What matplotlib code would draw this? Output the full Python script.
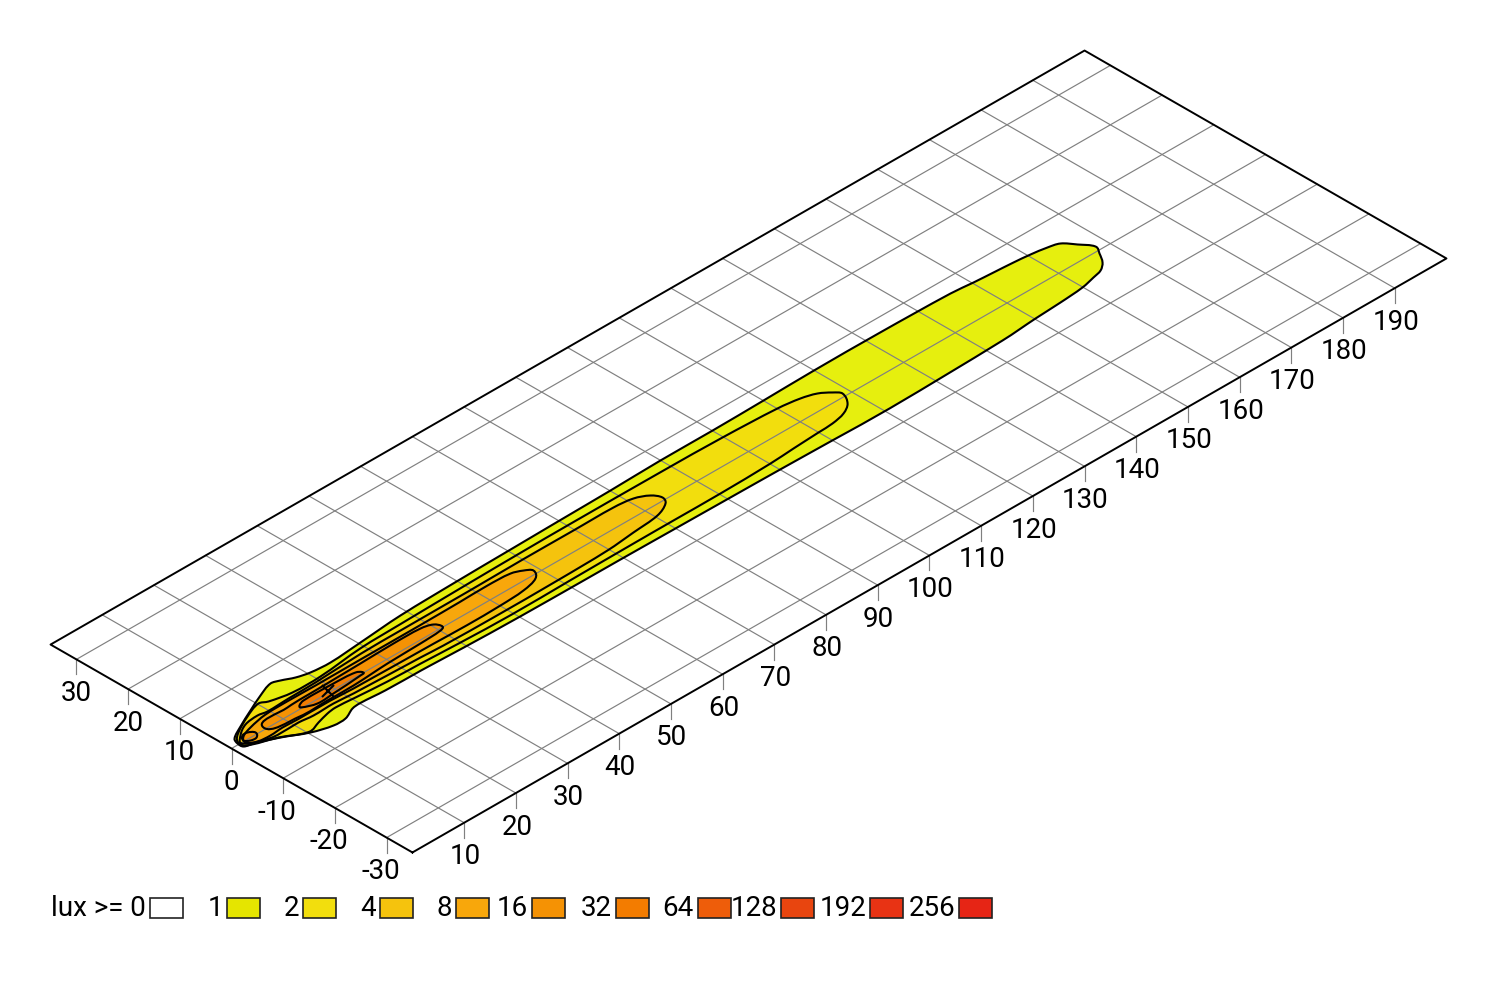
#!/usr/bin/env python3

"""Isolux plot of a headlamp beam on an inclined road plane."""

import matplotlib
import numpy as np

matplotlib.use("Agg")
from matplotlib import pyplot as plt
from matplotlib.patches import PathPatch, Rectangle
from matplotlib.path import Path
from matplotlib.transforms import Affine2D

plt.rcParams["font.family"] = ["Roboto", "Liberation Sans", "DejaVu Sans"]

# distance along the road (x) and across it (y), in metres
X_TICKS = list(range(10, 200, 10))
Y_TICKS = list(range(-30, 40, 10))
X_RANGE = (0, 200)
Y_RANGE = (-35, 35)
LAMP_X = 19.0
LAMP_Y = 0.3

LUX_LABELS = ["0", "1", "2", "4", "8", "16", "32", "64", "128", "192", "256"]
LUX_COLORS = ["#ffffff", "#e5e500", "#f2de0d", "#f5c30d", "#f8a70b", "#f59204",
              "#f37c00", "#ee5d0a", "#e8450f", "#e83314", "#e62515"]
BEAM_LEVEL1_COLOR = "#e6ef0e"

LEVEL1_X = [1.97, 4.57, 8.23, 11.73, 14.71, 16.19, 18.14, 20.44, 24.05, 30.32, 38.74, 50.14, 60.0, 70.2,
            80.09, 89.97, 100.05, 110.04, 119.92, 132.8, 146.13, 150.21, 153.83, 157.45, 160.44, 163.26, 165.19,
            166.67, 168.07, 167.28, 166.06, 164.52, 162.66, 159.91, 155.26, 150.15, 143.25, 120.98, 109.98,
            100.69, 91.15, 80.17, 68.98, 56.39, 44.41, 34.57, 31.41, 24.68, 20.05, 18.44, 16.08, 13.74,
            10.34, 6.59, 2.97, 1.5, 1.42]
LEVEL1_Y = [1.39, 2.83, 4.56, 6.12, 7.17, 6.71, 5.76, 5.16, 4.9, 5.37, 6.05, 6.35, 6.5, 6.65,
            6.78, 7.0, 7.0, 7.13, 7.3, 7.3, 7.06, 6.69, 6.44, 6.19, 5.89, 5.43, 4.84,
            3.03, 0.95, -0.61, -2.42, -3.58, -4.07, -4.69, -5.09, -5.37, -5.88, -6.4, -6.25,
            -6.1, -6.0, -5.9, -5.8, -5.75, -5.6, -5.3, -5.2, -5.1, -4.8, -4.97, -5.98, -6.0,
            -4.95, -2.89, -1.29, -0.83, 0.26]

LEVEL2_X = [37.22, 29.48, 20.73, 15.33, 11.49, 10.19, 6.93, 3.37, 1.76, 1.86, 6.4, 10.3, 12.79, 15.18, 16.96,
            20.22, 26.37, 32.59, 39.82, 49.67, 61.07, 73.39, 81.13, 90.22, 100.11, 104.86, 109.97, 112.84,
            115.59, 117.66, 118.86, 118.06, 116.44, 113.96, 110.05, 99.84, 88.58, 70.04, 61.58, 50.27]
LEVEL2_Y = [4.6, 4.4, 3.52, 3.53, 4.33, 4.97, 3.84, 2.02, 0.6, -0.85, -2.7, -4.7, -4.04, -3.39, -3.16,
            -3.38, -3.81, -4.0, -4.3, -4.55, -4.45, -4.37, -4.36, -4.36, -4.15, -3.85, -3.57, -3.41,
            -2.79, -1.5, 0.68, 1.81, 3.09, 3.9, 4.44, 4.87, 5.02, 5.05, 5.0, 4.85]

LEVEL4_X = [83.22, 83.94, 83.11, 80.97, 77.52, 69.78, 60.23, 49.72, 36.21, 28.47, 19.24, 13.93, 9.71, 8.07, 5.4,
            3.06, 1.9, 5.54, 8.88, 10.86, 13.49, 17.44, 21.06, 33.6, 37.84, 47.39, 59.81, 69.7, 75.24, 80.42]
LEVEL4_Y = [-0.73, 0.57, 2.07, 3.21, 3.63, 3.63, 3.65, 3.55, 3.52, 3.45, 2.99, 2.9, 2.75, 3.04, 2.69,
            1.32, -0.22, -2.0, -2.15, -2.1, -2.38, -2.29, -2.54, -2.96, -3.16, -3.28, -3.24, -3.03, -2.51, -1.97]

LEVEL8_X = [58.02, 59.17, 58.2, 56.44, 52.2, 46.73, 39.61, 35.2, 27.46, 18.73, 13.95, 9.01, 5.37, 3.18, 2.36,
            3.69, 5.96, 8.47, 11.27, 17.66, 21.9, 37.21, 43.53, 50.09, 54.84]
LEVEL8_Y = [-0.78, 0.76, 1.72, 2.47, 2.68, 2.58, 2.52, 2.51, 2.51, 2.48, 2.54, 2.43, 1.7, 0.86, -0.34,
            -1.33, -1.58, -1.4, -1.5, -1.5, -1.7, -1.9, -2.02, -1.94, -1.64]

LEVEL16_X = [40.95, 40.41, 38.48, 33.34, 26.79, 18.88, 12.32, 6.63, 11.9, 17.37, 22.4, 29.4, 35.96, 40.08]
LEVEL16_Y = [0.13, 1.34, 1.92, 2.01, 1.84, 1.67, 1.49, 0.44, -1.2, -1.2, -1.2, -0.78, -0.6, -0.35]

NOSE16_X = [3.26, 4.24, 5.02, 4.27, 3.18, 2.51]
NOSE16_Y = [1.13, 1.15, 0.38, -0.57, -0.49, 0.19]

LEVEL32_X = [25.56, 24.79, 20.81, 15.05, 13.82, 13.58, 15.89, 19.13, 24.77]
LEVEL32_Y = [0.03, 0.8, 1.08, 1.12, 0.67, 0.23, -0.74, -0.6, -0.18]

# page layout, in pixels of the 1500x1000 canvas
LEGEND_LEFT = [150, 227, 303, 380, 456, 532, 616, 698, 781, 870, 959]
LEGEND_TOP = 898
SWATCH_W = 33
SWATCH_H = 20
TICK_LEN = 15
LABEL_GAP = 34
MINUS_SHIFT = 6
FONT_SIZE = 20


def smooth_outline(xs, ys):
    """Closed bezier path through the read-off contour points."""
    pts = np.column_stack([xs, ys])
    ahead = np.roll(pts, -1, axis=0)
    tangents = ahead - np.roll(pts, 1, axis=0)
    tangents = tangents / np.linalg.norm(tangents, axis=1, keepdims=True)
    seg_len = np.linalg.norm(ahead - pts, axis=1, keepdims=True) / 3
    ctrl_a = pts + tangents * seg_len
    ctrl_b = ahead - np.roll(tangents, -1, axis=0) * seg_len

    vertices = [pts[0]]
    codes = [Path.MOVETO]
    for a, b, end in zip(ctrl_a, ctrl_b, ahead):
        vertices += [a, b, end]
        codes += [Path.CURVE4] * 3
    return Path(vertices, codes, closed=False)


fig = plt.figure(figsize=(15, 10), dpi=100)
ax = fig.add_axes([0, 0, 1, 1])
ax.set_xlim(0, 1500)
ax.set_ylim(1000, 0)
ax.axis("off")

# road coordinates -> page pixels
road_to_page = Affine2D.from_values(5.17, -2.97, -5.17, -2.97, 231.5, 748.5)
road = road_to_page + ax.transData

contours = [
    (LEVEL1_X, LEVEL1_Y, BEAM_LEVEL1_COLOR),
    (LEVEL2_X, LEVEL2_Y, LUX_COLORS[2]),
    (LEVEL4_X, LEVEL4_Y, LUX_COLORS[3]),
    (LEVEL8_X, LEVEL8_Y, LUX_COLORS[4]),
    (LEVEL16_X, LEVEL16_Y, LUX_COLORS[5]),
    (NOSE16_X, NOSE16_Y, LUX_COLORS[5]),
    (LEVEL32_X, LEVEL32_Y, LUX_COLORS[6]),
]

# fills first so the grid stays visible on top of the beam
for xs, ys, color in contours:
    ax.add_patch(PathPatch(smooth_outline(xs, ys), facecolor=color, edgecolor="none", transform=road, zorder=1))

for x in X_TICKS:
    ax.plot([x, x], Y_RANGE, color="#808080", lw=0.85, transform=road, zorder=2)
for y in Y_TICKS:
    ax.plot(X_RANGE, [y, y], color="#808080", lw=0.85, transform=road, zorder=2)

for xs, ys, color in contours:
    ax.add_patch(PathPatch(smooth_outline(xs, ys), fill=False, edgecolor="black", lw=1.5,
                           joinstyle="round", transform=road, zorder=3))

ax.plot([X_RANGE[0], X_RANGE[1], X_RANGE[1], X_RANGE[0], X_RANGE[0]],
        [Y_RANGE[0], Y_RANGE[0], Y_RANGE[1], Y_RANGE[1], Y_RANGE[0]],
        color="black", lw=1.4, transform=road, zorder=4)
ax.plot([LAMP_X], [LAMP_Y], marker="x", ms=8.5, mew=1.5, color="black", transform=road, zorder=5)

# ticks hang straight down from the plate edge
for x in X_TICKS:
    px, py = road_to_page.transform((x, Y_RANGE[0]))
    ax.plot([px, px], [py, py + TICK_LEN], color="#808080", lw=0.85, zorder=2)
    ax.text(px + 1, py + LABEL_GAP, str(x), ha="center", va="center", fontsize=FONT_SIZE)
for y in Y_TICKS:
    px, py = road_to_page.transform((X_RANGE[0], y))
    ax.plot([px, px], [py, py + TICK_LEN], color="#808080", lw=0.85, zorder=2)
    shift = MINUS_SHIFT if y < 0 else 0
    ax.text(px - shift, py + LABEL_GAP, str(y), ha="center", va="center", fontsize=FONT_SIZE)

for i, (label, color, left) in enumerate(zip(LUX_LABELS, LUX_COLORS, LEGEND_LEFT)):
    ax.add_patch(Rectangle((left, LEGEND_TOP), SWATCH_W, SWATCH_H, facecolor=color, edgecolor="#222222", lw=1.2))
    text = "lux >= " + label if i == 0 else label
    ax.text(left - 4, LEGEND_TOP + SWATCH_H / 2, text, ha="right", va="center", fontsize=FONT_SIZE)

fig.savefig("out.png", dpi=100)
plt.close(fig)
